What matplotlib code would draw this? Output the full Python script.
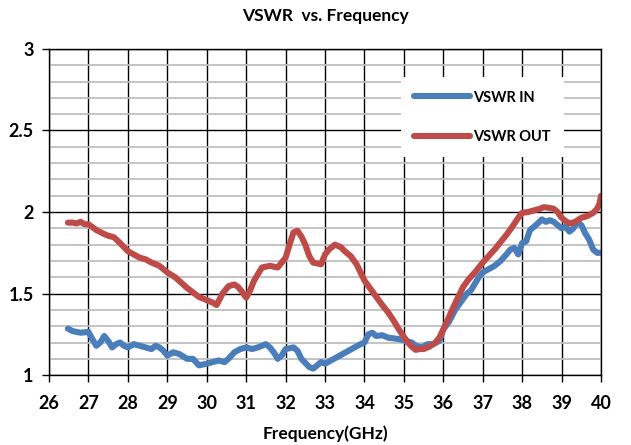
import numpy as np
import matplotlib.pyplot as plt
from matplotlib.ticker import MultipleLocator

# VSWR OUT (red)
freq_out = [26.48, 26.6, 26.7, 26.8, 26.9, 27.0, 27.2, 27.4, 27.5, 27.65, 27.8,
            28.0, 28.15, 28.3, 28.45, 28.6, 28.8, 29.0, 29.2, 29.5, 29.8, 30.0,
            30.15, 30.25, 30.4, 30.55, 30.7, 30.8, 30.9, 31.0, 31.1, 31.2, 31.4,
            31.6, 31.8, 32.0, 32.1, 32.2, 32.3, 32.4, 32.5, 32.6, 32.7, 32.9,
            33.0, 33.1, 33.25, 33.4, 33.5, 33.65, 33.8, 34.0, 34.15, 34.3, 34.45,
            34.6, 34.75, 34.9, 35.0, 35.1, 35.2, 35.3, 35.4, 35.5, 35.65, 35.8,
            35.9, 36.0, 36.15, 36.3, 36.5, 36.65, 36.8, 37.0, 37.15, 37.3, 37.45,
            37.6, 37.75, 37.9, 38.0, 38.15, 38.3, 38.45, 38.55, 38.7, 38.8, 38.9,
            39.0, 39.1, 39.2, 39.35, 39.5, 39.65, 39.8, 39.9, 39.96, 40.0]
vswr_out = [1.935, 1.935, 1.93, 1.94, 1.925, 1.925, 1.89, 1.865, 1.855, 1.845, 1.81,
            1.76, 1.74, 1.72, 1.71, 1.69, 1.67, 1.63, 1.6, 1.535, 1.48, 1.46,
            1.445, 1.43, 1.5, 1.545, 1.556, 1.54, 1.51, 1.475, 1.52, 1.58, 1.66,
            1.67, 1.66, 1.72, 1.8, 1.875, 1.885, 1.85, 1.8, 1.73, 1.69, 1.68,
            1.74, 1.77, 1.8, 1.785, 1.76, 1.73, 1.68, 1.58, 1.53, 1.48, 1.43,
            1.385, 1.33, 1.27, 1.235, 1.2, 1.175, 1.155, 1.16, 1.16, 1.175, 1.2,
            1.23, 1.28, 1.36, 1.44, 1.54, 1.59, 1.63, 1.69, 1.73, 1.77, 1.815,
            1.86, 1.91, 1.965, 1.995, 2.0, 2.01, 2.02, 2.03, 2.025, 2.02, 2.0,
            1.965, 1.945, 1.93, 1.94, 1.965, 1.975, 1.995, 2.02, 2.05, 2.1]

# VSWR IN (blue)
freq_in = [26.48, 26.6, 26.8, 27.0, 27.1, 27.2, 27.3, 27.4, 27.5, 27.6, 27.7, 27.8,
           27.9, 28.0, 28.15, 28.3, 28.45, 28.6, 28.7, 28.8, 28.9, 29.0, 29.15, 29.3,
           29.5, 29.65, 29.8, 30.0, 30.15, 30.3, 30.45, 30.55, 30.7, 30.85, 31.0,
           31.15, 31.3, 31.5, 31.6, 31.7, 31.8, 31.9, 32.0, 32.2, 32.3, 32.4, 32.6,
           32.7, 32.8, 32.9, 33.0, 33.15, 33.3, 33.45, 33.6, 33.75, 33.9, 34.0, 34.1,
           34.2, 34.3, 34.45, 34.6, 34.75, 34.9, 35.05, 35.2, 35.3, 35.45, 35.6,
           35.75, 35.9, 36.0, 36.15, 36.3, 36.45, 36.6, 36.7, 36.8, 36.9, 37.0,
           37.15, 37.3, 37.45, 37.6, 37.7, 37.8, 37.9, 38.0, 38.1, 38.2, 38.35,
           38.5, 38.6, 38.7, 38.8, 38.9, 39.0, 39.1, 39.2, 39.3, 39.4, 39.5, 39.6,
           39.7, 39.8, 39.9, 40.0]
vswr_in = [1.285, 1.27, 1.26, 1.265, 1.22, 1.18, 1.2, 1.24, 1.21, 1.17, 1.19, 1.2,
           1.18, 1.17, 1.19, 1.18, 1.17, 1.16, 1.18, 1.17, 1.15, 1.12, 1.14, 1.13,
           1.1, 1.1, 1.06, 1.07, 1.08, 1.09, 1.08, 1.1, 1.14, 1.16, 1.17,
           1.16, 1.17, 1.19, 1.17, 1.14, 1.1, 1.12, 1.16, 1.17, 1.15, 1.1, 1.05,
           1.04, 1.06, 1.08, 1.07, 1.09, 1.11, 1.13, 1.15, 1.17, 1.19, 1.2, 1.25,
           1.26, 1.24, 1.245, 1.23, 1.225, 1.22, 1.21, 1.2, 1.18, 1.17, 1.19,
           1.19, 1.21, 1.28, 1.33, 1.4, 1.45, 1.5, 1.52, 1.56, 1.6, 1.63,
           1.65, 1.67, 1.7, 1.74, 1.77, 1.78, 1.74, 1.81, 1.82, 1.89, 1.92,
           1.955, 1.94, 1.95, 1.94, 1.92, 1.9, 1.91, 1.88, 1.9, 1.94, 1.92, 1.87,
           1.83, 1.77, 1.75, 1.75]

plt.rcParams['font.family'] = ['Lato', 'DejaVu Sans']

fig = plt.figure(figsize=(6.31, 4.45), dpi=100)
ax = fig.add_axes([0.0777, 0.157, 0.8748, 0.733])

ax.plot(freq_in, vswr_in, color='#4a7ebb', lw=4.4, label='VSWR IN', solid_capstyle='round')
ax.plot(freq_out, vswr_out, color='#be4b48', lw=4.4, label='VSWR OUT', solid_capstyle='round')

ax.set_xlim(26, 40)
ax.set_ylim(1, 3)
ax.xaxis.set_major_locator(MultipleLocator(1))
ax.yaxis.set_major_locator(MultipleLocator(0.5))
ax.yaxis.set_minor_locator(MultipleLocator(0.1))
ax.yaxis.set_major_formatter(plt.FuncFormatter(lambda v, p: f'{v:g}'))

ax.grid(which='minor', axis='y', color='#bfbfbf', lw=1.3, zorder=0)
ax.grid(which='major', axis='both', color='black', lw=1.0, zorder=0)
ax.tick_params(which='minor', length=0)
ax.tick_params(which='major', length=5, width=1, direction='out', labelsize=13)
ax.tick_params(axis='x', pad=9)
ax.tick_params(axis='y', pad=6)
for lab in ax.get_xticklabels() + ax.get_yticklabels():
    lab.set_fontweight('bold')
for s in ax.spines.values():
    s.set_linewidth(1.0)

ax.set_title('VSWR  vs. Frequency', fontsize=12.5, fontweight='bold', pad=20)
ax.set_xlabel('Frequency(GHz)', fontsize=12.5, fontweight='bold', labelpad=10)

leg = ax.legend(loc='upper left', bbox_to_anchor=(0.625, 0.935), frameon=True,
                fancybox=False, edgecolor='none', framealpha=1, handlelength=3.8,
                labelspacing=1.75, borderpad=0.9, handletextpad=0.2,
                prop={'weight': 'bold', 'size': 10.5})

fig.savefig('out.png', dpi=100)
